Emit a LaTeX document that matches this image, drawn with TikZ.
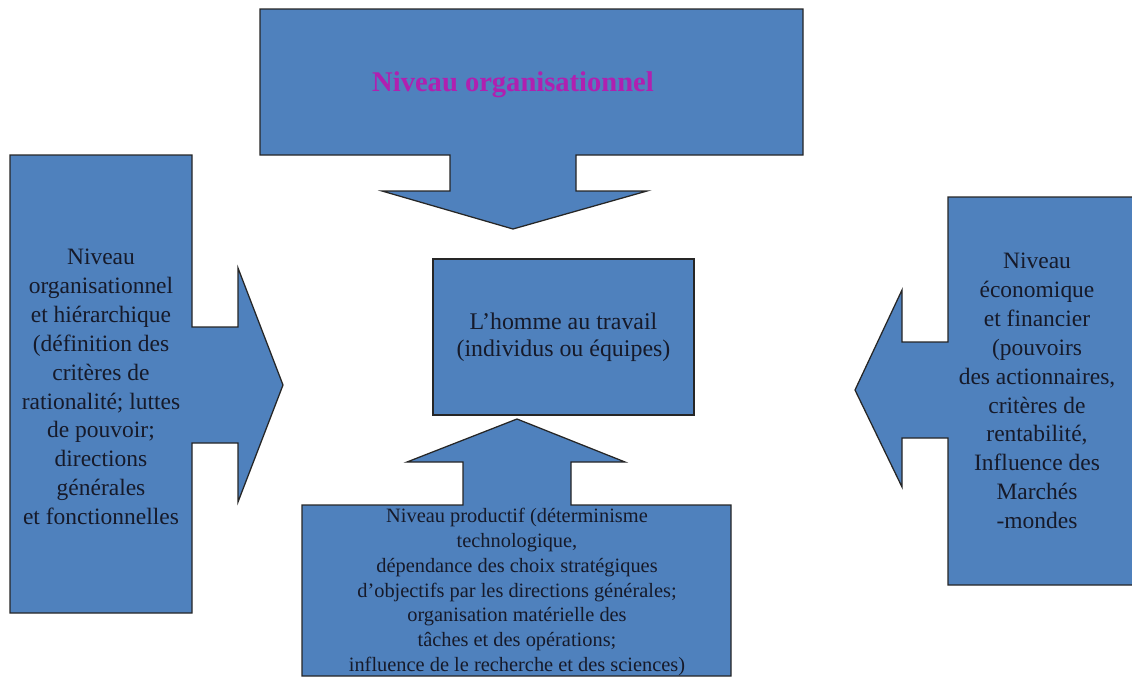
\documentclass[tikz,border=0pt]{standalone}
\usepackage{fontspec}
\setmainfont{Liberation Serif}
\usetikzlibrary{positioning}
\definecolor{boxblue}{RGB}{79,129,189}
\definecolor{titlemagenta}{RGB}{176,32,176}
\definecolor{boxtext}{RGB}{22,26,42}
\tikzset{
    callout/.style={fill=boxblue, draw=black!85, line width=0.9pt, line join=miter},
    level/.style={align=center, text=boxtext, inner sep=0pt},
    sidefont/.style={font=\fontsize{16.7}{20.5}\selectfont},
}

\begin{document}
\begin{tikzpicture}[x=0.025cm, y=-0.025cm]
    \useasboundingbox (0,0) rectangle (1132,677);
    \clip (0,0) rectangle (1132,677);

    % arrow tips
    \coordinate (ttop) at (513,229);
    \coordinate (tleft) at (283,385);
    \coordinate (tright) at (855,390);
    \coordinate (tbottom) at (517,419);

    % top callout
    \draw[callout] (260,9) -- (803,9) -- (803,155) -- (576,155) -- (576,191)
        -- (647,191) -- (ttop) -- (382,191) -- (450,191) -- (450,155)
        -- (260,155) -- cycle;

    % left callout
    \draw[callout] (10,155) -- (192,155) -- (192,327) -- (238,327) -- (238,268)
        -- (tleft) -- (238,502) -- (238,443) -- (192,443) -- (192,613)
        -- (10,613) -- cycle;

    % right callout
    \draw[callout] (1140,197) -- (948,197) -- (948,342) -- (902,342) -- (902,290)
        -- (tright) -- (902,487) -- (902,438) -- (948,438) -- (948,585)
        -- (1140,585) -- cycle;

    % bottom callout
    \draw[callout] (302,676) -- (302,505) -- (463,505) -- (463,462) -- (407,462)
        -- (tbottom) -- (625,462) -- (571,462) -- (571,505) -- (731,505)
        -- (731,676) -- cycle;

    % centre
    \node[callout, level, sidefont, minimum width=6.525cm, minimum height=3.9cm,
        font=\fontsize{17}{19.1}\selectfont] (homme) at (563.5,337)
        {L’homme au travail\\(individus ou équipes)};

    \node[font=\fontsize{20.3}{24}\selectfont\bfseries, text=titlemagenta, inner sep=0pt]
        (orgtitle) at (513,85) {Niveau organisationnel};

    \node[level, sidefont] (hierarchie) at (101,387)
        {Niveau\\organisationnel\\et hiérarchique\\(définition des\\critères de\\rationalité; luttes\\de pouvoir;\\directions\\générales\\et fonctionnelles};

    \node[level, sidefont] (finance) at (1037,391)
        {Niveau\\économique\\et financier\\(pouvoirs\\des actionnaires,\\critères de\\rentabilité,\\Influence des\\Marchés\\-mondes};

    \node[level, font=\fontsize{14.5}{17.7}\selectfont] (productif) at (517,592)
        {Niveau productif (déterminisme\\technologique,\\dépendance des choix stratégiques\\d’objectifs par les directions générales;\\organisation matérielle des\\tâches et des opérations;\\influence de le recherche et des sciences)};
\end{tikzpicture}
\end{document}
